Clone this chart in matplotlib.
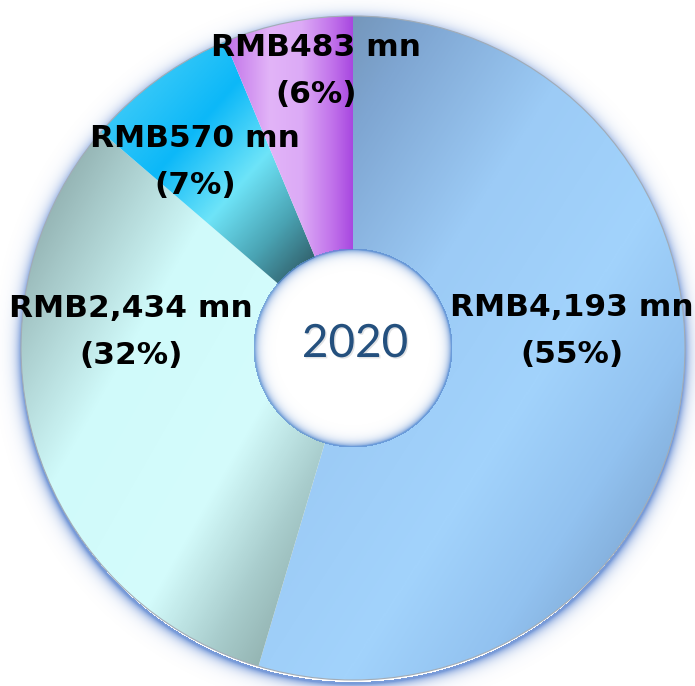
import numpy as np
import matplotlib
matplotlib.use("Agg")
import matplotlib.pyplot as plt
from matplotlib.colors import LinearSegmentedColormap
from matplotlib.patches import Circle
import matplotlib.patheffects as pe

# revenue split for 2020
amounts = ["RMB4,193 mn", "RMB2,434 mn", "RMB570 mn", "RMB483 mn"]
values = [4193, 2434, 570, 483]
shares = ["55%", "32%", "7%", "6%"]
year = "2020"

# gradient stops per slice (position, colour)
grad_stops = [
    [(0.0, "#68849f"), (0.2, "#7fa6d2"), (0.4, "#9ccbf6"), (0.6, "#a2d3fc"), (0.75, "#92c2f0"), (1.0, "#6a8cb4")],
    [(0.0, "#7a9696"), (0.18, "#a4c6c6"), (0.38, "#d0fafa"), (0.65, "#d4fcfc"), (0.8, "#a8cccc"), (1.0, "#7e9a96")],
    [(0.0, "#5ad6f8"), (0.4, "#0cb8f8"), (0.62, "#6ee4f8"), (0.8, "#4aa4b4"), (1.0, "#2a4c56")],
    [(0.0, "#c070e8"), (0.35, "#e2b4f8"), (0.6, "#dcaaf6"), (0.85, "#c070ea"), (1.0, "#a848e0")],
]
# 0 -> diagonal (top-left to bottom-right), 1 -> left to right
grad_mode = [0, 0, 0, 1]

label_xy = [(572, 355), (131, 354), (195, 524), (316, 615)]

W, H = 695, 686
cx, cy = 353, 338
R, r_in = 332, 98

fig = plt.figure(figsize=(W / 100, H / 100), dpi=100)
ax = fig.add_axes([0, 0, 1, 1])

wedges, _ = ax.pie(values, radius=R, center=(cx, cy), startangle=90,
                   counterclock=False, wedgeprops=dict(width=R - r_in))
ax.set_xlim(0, W)
ax.set_ylim(0, H)
ax.set_aspect("equal")
ax.axis("off")

# soft blue glow around the ring
yy, xx = np.mgrid[0:H, 0:W] + 0.5
rs = np.hypot(xx - cx, yy - (cy - 4))
glow = np.zeros((H, W, 4))
glow[..., :3] = (0.30, 0.48, 0.80)
d = rs - R
glow[..., 3] = np.where(d > -2, 0.75 * np.exp(-np.clip(d, 0, None) / 5.5), 0)
ax.imshow(glow, extent=(0, W, 0, H), origin="lower", zorder=0, interpolation="bilinear")

for w, stops, mode in zip(wedges, grad_stops, grad_mode):
    ext = w.get_path().get_extents()
    x0, y0, x1, y1 = ext.x0, ext.y0, ext.x1, ext.y1
    gy, gx = np.mgrid[0:1:400j, 0:1:400j]
    if mode == 0:
        t = (gx + (1 - gy)) / 2
    else:
        t = gx
    cmap = LinearSegmentedColormap.from_list("g", stops)
    img = ax.imshow(cmap(t), extent=(x0, x1, y0, y1), origin="lower",
                    zorder=1, interpolation="bilinear")
    img.set_clip_path(w)
    w.set_facecolor("none")
    w.set_edgecolor("none")

ax.add_patch(Circle((cx, cy), R, fill=False, ec="#a2acb6", lw=0.8, zorder=2))

# blue halo inside the hole
r0 = np.hypot(xx - cx, yy - cy)
halo = np.zeros((H, W, 4))
halo[..., :3] = (0.36, 0.55, 0.82)
dh = r_in - r0
halo[..., 3] = np.where(dh > -1.5, 0.75 * np.exp(-np.clip(dh, 0, None) / 4.0), 0)
halo[..., 3] = np.where(r0 > r_in + 1.5, 0, halo[..., 3])
ax.imshow(halo, extent=(0, W, 0, H), origin="lower", zorder=3, interpolation="bilinear")

for amt, sh, (lx, ly) in zip(amounts, shares, label_xy):
    ax.text(lx, ly, f"{amt}\n({sh})", ha="center", va="center",
            fontsize=22.5, fontweight="bold", family="DejaVu Sans",
            linespacing=1.75, color="black", zorder=5)

ax.text(cx + 2, cy + 4, year, ha="center", va="center", fontsize=33,
        family="Lato", color="#24507e", zorder=5,
        path_effects=[pe.withSimplePatchShadow(offset=(1, -1), alpha=0.12)])

fig.savefig("out.png", dpi=100)
